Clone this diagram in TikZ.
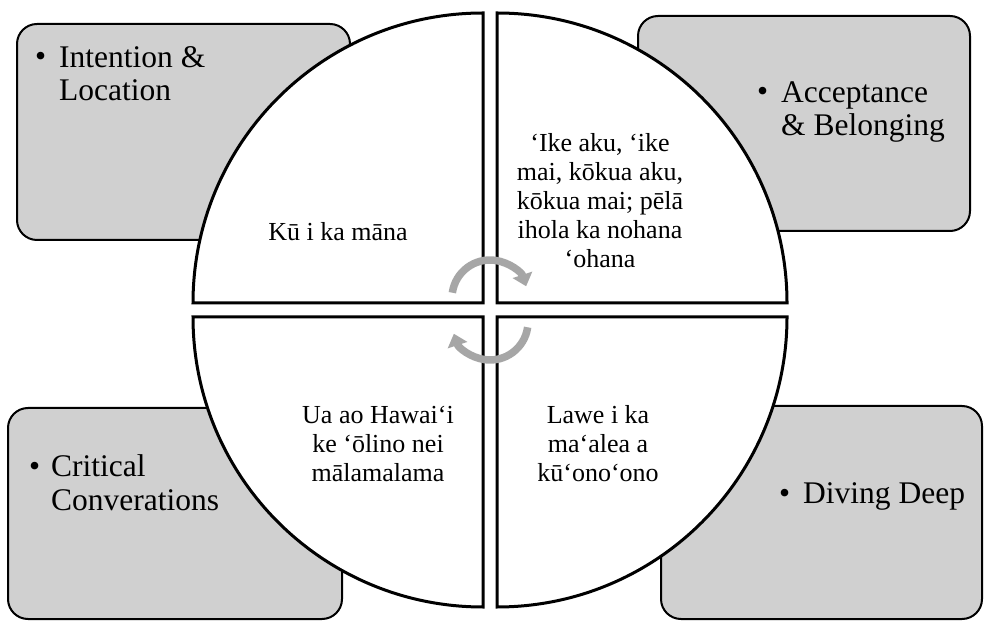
\documentclass[tikz,border=0pt]{standalone}
\usepackage{fontspec}
\setmainfont{Liberation Serif}
\usetikzlibrary{arrows.meta,calc}
\definecolor{boxgray}{HTML}{D0D0D0}
\definecolor{arrowgray}{HTML}{A6A6A6}
\begin{document}
\begin{tikzpicture}[x=1pt,y=1pt,
  cornerbox/.style={draw=black, line width=2pt, fill=boxgray, rounded corners=20pt},
  quad/.style={draw=black, line width=3pt, fill=white, line join=miter},
  boxtext/.style={font=\fontsize{31.5}{33}\selectfont, inner sep=0pt, anchor=base west, align=left},
  bullettext/.style={font=\fontsize{31.5}{33}\selectfont, inner sep=0pt, anchor=base west},
  quadtext/.style={font=\fontsize{26}{29}\selectfont, inner sep=0pt, align=center},
  cyc/.style={draw=arrowgray, line width=7.5pt, -{Triangle[width=20pt,length=12pt]}}]
\useasboundingbox (0,0) rectangle (984,621);

% corner boxes
\path[cornerbox] (17,381) rectangle (350,597);
\path[cornerbox] (638,390) rectangle (970,605);
\path[cornerbox] (8,2) rectangle (342,213);
\path[cornerbox] (661,2) rectangle (982,215);

% quadrants
\path[quad] (483,318) coordinate (qtl) -- ++(-290,0) arc (180:90:290) -- cycle;
\path[quad] (497,318) coordinate (qtr) -- ++(0,290) arc (90:0:290) -- cycle;
\path[quad] (483,304) coordinate (qbl) -- ++(0,-290) arc (270:180:290) -- cycle;
\path[quad] (497,304) coordinate (qbr) -- ++(290,0) arc (0:-90:290) -- cycle;

% box texts (base anchor = last line)
\node[bullettext] (b1) at (35,554) {•};
\node[boxtext] (t1) at (59,520) {Intention \&\\Location};
\node[bullettext] (b2) at (757,519) {•};
\node[boxtext] (t2) at (781,485) {Acceptance\\\& Belonging};
\node[bullettext] (b3) at (29,144) {•};
\node[boxtext] (t3) at (51,111) {Critical\\Converations};
\node[bullettext] (b4) at (779,118) {•};
\node[boxtext] (t4) at (803,118) {Diving Deep};

% quadrant texts
\node[quadtext] (k1) at (338,389) {Kū i ka māna};
\node[quadtext] (k2) at (600,420) {‘Ike aku, ‘ike\\mai, kōkua aku,\\kōkua mai; pēlā\\ihola ka nohana\\‘ohana};
\node[quadtext] (k3) at (378,177) {Ua ao Hawai‘i\\ke ‘ōlino nei\\mālamalama};
\node[quadtext] (k4) at (598,177) {Lawe i ka\\ma‘alea a\\kū‘ono‘ono};

% circular arrows
\coordinate (c1) at (490,323);
\coordinate (c2) at (490,299);
\draw[cyc] ($(c1)+(172:38)$) arc (172:18:38);
\draw[cyc] ($(c2)+(-8:38)$) arc (-8:-162:38);
\end{tikzpicture}
\end{document}
